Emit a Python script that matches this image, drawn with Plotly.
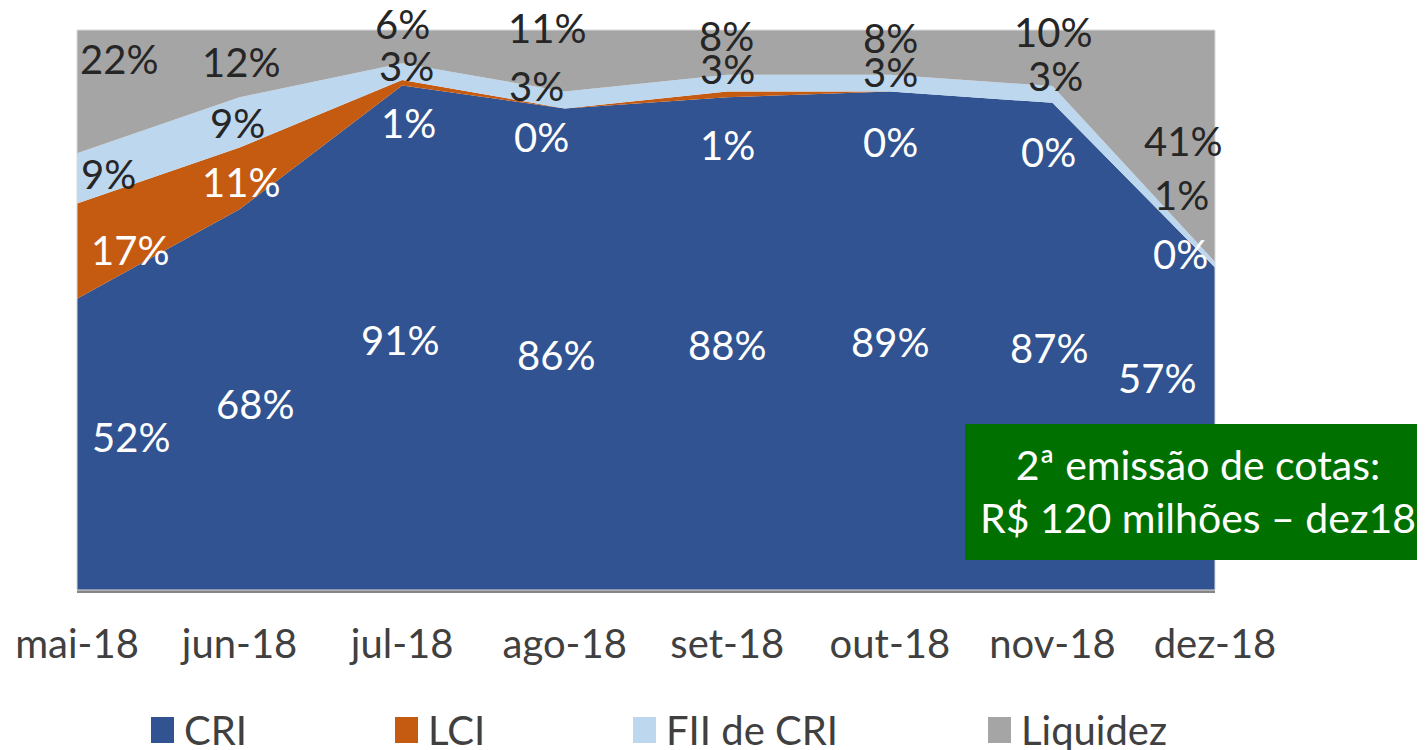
import plotly.graph_objects as go

months = ["mai-18", "jun-18", "jul-18", "ago-18", "set-18", "out-18", "nov-18", "dez-18"]
series_names = ["CRI", "LCI", "FII de CRI", "Liquidez"]
cri = [52, 68, 91, 86, 88, 89, 87, 57]
lci = [17, 11, 1, 0, 1, 0, 0, 0]
fii = [9, 9, 3, 3, 3, 3, 3, 1]
liquidez = [22, 12, 6, 11, 8, 8, 10, 41]
note_lines = ["2ª emissão de cotas:", "R$ 120 milhões – dez18"]

# styles
colors = ["#325391", "#C55A11", "#BDD7EE", "#A5A5A5"]
label_colors = ["white", "white", "#262626", "#262626"]
FONT = "Lato"
OFF = 8  # page body margin
W, H = 1425 - OFF, 750 - OFF
ML, MR, MT, MB = 77 - OFF, 210, 30 - OFF, 160
PW, PH = W - ML - MR, H - MT - MB


def px_x(p):  # page pixel -> paper
    return (p - OFF - ML) / PW


def px_y(p):
    return (H - MB - (p - OFF)) / PH


# label nudges in pixels (styling only)
dx = [
    [54, 15, -2, -9, 0, 0, -3, -58],
    [53, 1, 6, -23, 0, 1, -4, -35],
    [31, -2, 4, -28, 0, 1, 3, -34],
    [42, 1, 0, -18, -1, 1, 1, -32],
]
dy = [
    [7, -4, -2, -6, -1, -1, -2, 51],
    [1, -4, -40, -29, -51, -50, -49, 14],
    [4, -1, 6, 14, 14, 11, 18, 70],
    [33, 2, 23, 33, 16, 14, 26, 5],
]

data = [cri, lci, fii, liquidez]
fig = go.Figure()
for name, vals, c in zip(series_names, data, colors):
    fig.add_trace(go.Scatter(
        x=months, y=vals, name=name, stackgroup="one", groupnorm="percent",
        mode="lines", line=dict(width=0, color=c), fillcolor=c,
        showlegend=False, hoverinfo="skip"))

annotations = []
shapes = [dict(type="rect", xref="paper", yref="paper", x0=0, x1=1, y0=0, y1=1,
               line=dict(color="#D9D9D9", width=1), layer="above")]

# legend drawn as square swatches + text
legend_px = [151, 395, 633, 988]
for name, c, px in zip(series_names, colors, legend_px):
    shapes.append(dict(type="rect", xref="paper", yref="paper",
                       x0=px_x(px), x1=px_x(px + 23), y0=px_y(743), y1=px_y(717),
                       fillcolor=c, line=dict(width=0)))
    annotations.append(dict(x=px_x(px + 31), y=px_y(730), xref="paper", yref="paper",
                            text=name, showarrow=False, xanchor="left", yanchor="middle",
                            font=dict(family=FONT, size=40, color="#404040")))

# data labels: midpoint of each normalized segment
totals = [sum(d[i] for d in data) for i in range(len(months))]
for s, vals in enumerate(data):
    for i, m in enumerate(months):
        below = sum(data[k][i] for k in range(s)) / totals[i] * 100
        mid = below + vals[i] / totals[i] * 100 / 2
        annotations.append(dict(
            x=m, y=mid, xref="x", yref="y", text=f"{vals[i]}%", showarrow=False,
            xshift=dx[s][i], yshift=dy[s][i],
            font=dict(family=FONT, size=40, color=label_colors[s])))

# note box
shapes.append(dict(type="rect", xref="paper", yref="paper",
                   x0=px_x(965), x1=px_x(1430), y0=px_y(560), y1=px_y(424),
                   fillcolor="#007000", line=dict(width=0), layer="above"))
annotations.append(dict(
    x=px_x(1198), y=px_y(491), xref="paper", yref="paper",
    text="<br>".join(note_lines), showarrow=False, align="center",
    xanchor="center", yanchor="middle",
    font=dict(family=FONT, size=41, color="white")))

fig.update_layout(
    width=W, height=H,
    margin=dict(l=ML, r=MR, t=MT, b=MB, autoexpand=False),
    paper_bgcolor="white", plot_bgcolor="white",
    font=dict(family=FONT, color="#404040"),
    showlegend=False,
    xaxis=dict(type="category", range=[0, len(months) - 1], showgrid=False,
               zeroline=False, showline=True, linecolor="#868686", linewidth=3,
               ticks="outside", ticklen=17, tickcolor="rgba(0,0,0,0)",
               tickfont=dict(family=FONT, size=40, color="#404040")),
    yaxis=dict(range=[0, 100], showgrid=False, zeroline=False,
               showticklabels=False, showline=False),
    annotations=annotations, shapes=shapes,
)

fig.write_html("out.html")
